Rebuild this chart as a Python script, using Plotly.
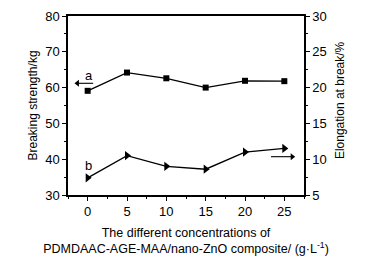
import plotly.graph_objects as go

conc = [0, 5, 10, 15, 20, 25]
breaking_strength = [59.1, 64.2, 62.6, 60.0, 61.9, 61.8]
elongation = [7.4, 10.5, 9.0, 8.6, 11.0, 11.5]

# indicator arrows (series a points left to left axis, series b points right to right axis)
arrow_a_x = [-1.3, 0.7]
arrow_a_y = [61.2, 61.2]
arrow_b_x = [23.3, 26.0]
arrow_b_y = [10.35, 10.35]

font = "Liberation Sans, Arial, sans-serif"

fig = go.Figure()
fig.add_trace(go.Scatter(x=conc, y=breaking_strength, mode="lines+markers",
                         line=dict(color="black", width=1.3),
                         marker=dict(symbol="square", size=6, color="black"),
                         yaxis="y", showlegend=False))
fig.add_trace(go.Scatter(x=conc, y=elongation, mode="lines+markers",
                         line=dict(color="black", width=1.3),
                         marker=dict(symbol="triangle-right", size=8, color="black"),
                         yaxis="y2", showlegend=False))
fig.add_trace(go.Scatter(x=arrow_a_x, y=arrow_a_y, mode="lines",
                         line=dict(color="black", width=1.1),
                         yaxis="y", showlegend=False, hoverinfo="skip"))
fig.add_trace(go.Scatter(x=arrow_a_x[:1], y=arrow_a_y[:1], mode="markers",
                         marker=dict(symbol="triangle-left", size=6, color="black"),
                         yaxis="y", showlegend=False, hoverinfo="skip"))
fig.add_trace(go.Scatter(x=arrow_b_x, y=arrow_b_y, mode="lines",
                         line=dict(color="black", width=1.1),
                         yaxis="y2", showlegend=False, hoverinfo="skip"))
fig.add_trace(go.Scatter(x=arrow_b_x[-1:], y=arrow_b_y[-1:], mode="markers",
                         marker=dict(symbol="triangle-right", size=6, color="black"),
                         yaxis="y2", showlegend=False, hoverinfo="skip"))

fig.add_annotation(x=0.2, y=63.3, xref="x", yref="y", text="a", showarrow=False,
                   font=dict(family=font, size=13, color="black"))
fig.add_annotation(x=0.1, y=9.1, xref="x", yref="y2", text="b", showarrow=False,
                   font=dict(family=font, size=13, color="black"))

# y-axis titles as rotated annotations
fig.add_annotation(x=-0.1525, y=0.50, xref="paper", yref="paper", text="Breaking strength/kg",
                   textangle=-90, showarrow=False, xanchor="center", yanchor="middle",
                   font=dict(family=font, size=12, color="black"))
fig.add_annotation(x=1.1525, y=0.53, xref="paper", yref="paper", text="Elongation at break/%",
                   textangle=-90, showarrow=False, xanchor="center", yanchor="middle",
                   font=dict(family=font, size=12, color="black"))

axis_common = dict(showline=True, linecolor="black", linewidth=1.5, ticks="outside",
                   ticklen=4, tickwidth=1.2, tickcolor="black", showgrid=False, zeroline=False,
                   automargin=False,
                   tickfont=dict(family=font, size=13, color="black"))

fig.update_layout(
    width=374, height=258,
    margin=dict(l=68, r=70, t=16, b=63),
    paper_bgcolor="white", plot_bgcolor="white",
    font=dict(family=font, color="black"),
    xaxis=dict(range=[-2.5, 27.5], tickvals=conc, mirror=True,
               minor=dict(dtick=2.5, tick0=0, ticklen=2.5, tickwidth=1, tickcolor="black", ticks="outside"),
               title=dict(text="The different concentrations of<br>PDMDAAC-AGE-MAA/nano-ZnO composite/ (g·L<sup>-1</sup>)",
                          font=dict(family=font, size=12.5, color="black"), standoff=10),
               **axis_common),
    yaxis=dict(range=[30, 80], dtick=10,
               minor=dict(dtick=5, ticklen=2.5, tickwidth=1, tickcolor="black", ticks="outside"),
               **axis_common),
    yaxis2=dict(range=[5, 30], dtick=5, overlaying="y", side="right",
                minor=dict(dtick=2.5, ticklen=2.5, tickwidth=1, tickcolor="black", ticks="outside"),
                **axis_common),
)

fig.write_html("out.html", config={"displayModeBar": False},
               post_script="document.body.style.margin='0';document.body.style.padding='0';")
